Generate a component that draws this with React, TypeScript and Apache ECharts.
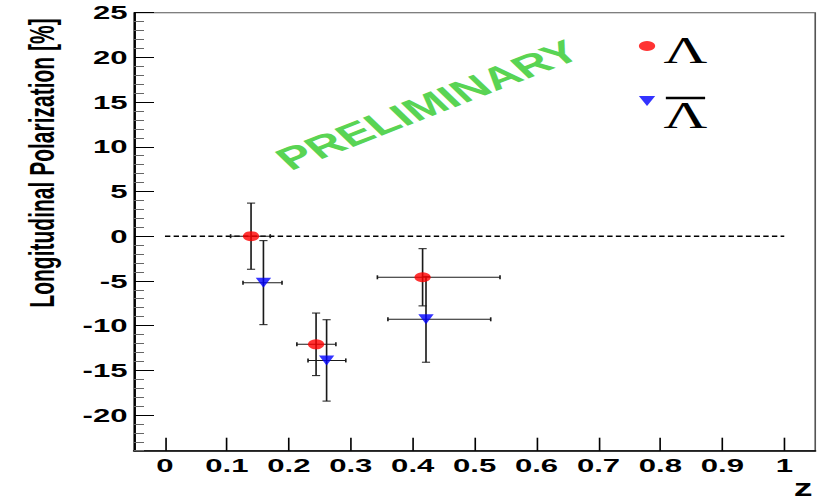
import React, { useEffect, useRef } from "react";
import * as echarts from "echarts";

// ---- data ----
const lambdaZ = [0.139, 0.244, 0.416];
const lambdaP = [0.0, -12.1, -4.6];
const lambdaZLow = [0.106, 0.213, 0.343];
const lambdaZHigh = [0.17, 0.276, 0.541];
const lambdaPErr = [3.7, 3.5, 3.2];

const antiZ = [0.159, 0.261, 0.4215];
const antiP = [-5.2, -13.9, -9.3];
const antiZLow = [0.126, 0.231, 0.36];
const antiZHigh = [0.189, 0.292, 0.526];
const antiPErr = [4.7, 4.55, 4.8];

const zeroLine = [
  [0, 0],
  [1, 0],
];

const xTicks = [0, 0.1, 0.2, 0.3, 0.4, 0.5, 0.6, 0.7, 0.8, 0.9, 1];
const xTickLabels = ["0", "0.1", "0.2", "0.3", "0.4", "0.5", "0.6", "0.7", "0.8", "0.9", "1"];
const yTicks = [-20, -15, -10, -5, 0, 5, 10, 15, 20, 25];

const seriesNames = ["Λ", "anti-Λ"];
const legendText = "Λ";
const yTitle = "Longitudinal Polarization [%]";
const xTitle = "z";
const watermark = "PRELIMINARY";

// the original canvas was stretched horizontally into 818 px
const STRETCH = 1.636;
const W = 818 / STRETCH;
const H = 501;

function rows(z: number[], p: number[], lo: number[], hi: number[], e: number[]) {
  return z.map((v, i) => [v, p[i], lo[i], hi[i], e[i]]);
}

function errorRender(params: any, api: any) {
  const z = api.value(0);
  const p = api.value(1);
  const lo = api.value(2);
  const hi = api.value(3);
  const e = api.value(4);
  const l = api.coord([lo, p]);
  const h = api.coord([hi, p]);
  const t = api.coord([z, p + e]);
  const b = api.coord([z, p - e]);
  const style = { stroke: "#1a1a1a", lineWidth: 1 };
  const cy = 2;
  const cx = 2.5;
  return {
    type: "group",
    children: [
      { type: "line", shape: { x1: l[0], y1: l[1], x2: h[0], y2: h[1] }, style },
      { type: "line", shape: { x1: l[0], y1: l[1] - cy, x2: l[0], y2: l[1] + cy }, style },
      { type: "line", shape: { x1: h[0], y1: h[1] - cy, x2: h[0], y2: h[1] + cy }, style },
      { type: "line", shape: { x1: t[0], y1: t[1], x2: b[0], y2: b[1] }, style },
      { type: "line", shape: { x1: t[0] - cx, y1: t[1], x2: t[0] + cx, y2: t[1] }, style },
      { type: "line", shape: { x1: b[0] - cx, y1: b[1], x2: b[0] + cx, y2: b[1] }, style },
    ],
  };
}

const TRI_DOWN = "path://M0,0L10,0L5,10Z";
const SERIF = "Liberation Serif, Times New Roman, serif";

function legendBox(name: string, icon: string, top: number, padTop: number) {
  return {
    orient: "vertical",
    left: 390.5,
    top,
    padding: 0,
    itemGap: 0,
    itemWidth: 10,
    itemHeight: 10,
    data: [{ name, icon }],
    formatter: () => `{t|${legendText}}`,
    textStyle: {
      color: "#000",
      fontFamily: SERIF,
      fontSize: 37,
      rich: {
        t: {
          fontFamily: SERIF,
          fontSize: 37,
          lineHeight: 37,
          color: "#000",
          padding: [padTop, 0, 0, 0],
        },
      },
    },
  };
}

export default function App() {
  const ref = useRef<HTMLDivElement>(null);
  useEffect(() => {
    if (!ref.current) return;
    const chart = echarts.init(ref.current, undefined, { renderer: "svg" });
    const font = "Liberation Sans, Arial, Helvetica, sans-serif";
    const labelStyle = {
      color: "#000",
      fontWeight: "bold" as const,
      fontSize: 19,
      fontFamily: font,
    };
    chart.setOption({
      animation: false,
      textStyle: { fontFamily: font },
      grid: {
        left: 134 / STRETCH,
        top: 12.7,
        width: (1.1 * 619.3) / STRETCH,
        bottom: 50.3,
        show: true,
        borderColor: "#555",
        borderWidth: 1,
        backgroundColor: "transparent",
      },
      legend: [
        legendBox(seriesNames[0], "circle", 23.5, 8),
        legendBox(seriesNames[1], TRI_DOWN, 68.5, 28),
      ],
      xAxis: {
        type: "value",
        min: -0.05,
        max: 1.05,
        axisLine: { show: true, onZero: false, lineStyle: { color: "#000", width: 1.5 } },
        axisTick: {
          show: true,
          inside: true,
          length: 13,
          customValues: xTicks,
          lineStyle: { color: "#000", width: 1 },
        },
        axisLabel: {
          show: true,
          margin: 5,
          customValues: xTicks,
          formatter: (v: number) => {
            const i = xTicks.findIndex((t) => Math.abs(t - v) < 1e-9);
            return i >= 0 ? xTickLabels[i] : "";
          },
          ...labelStyle,
        },
        splitLine: { show: false },
      },
      yAxis: [
        {
          type: "value",
          min: -24,
          max: 25,
          interval: 1,
          axisLine: { show: true, onZero: false, lineStyle: { color: "#000", width: 1.2 } },
          axisTick: {
            show: true,
            inside: true,
            length: 10 / STRETCH,
            lineStyle: { color: "#666", width: 1 },
          },
          axisLabel: { show: false },
          splitLine: { show: false },
        },
        {
          type: "value",
          min: -24,
          max: 25,
          position: "left",
          axisLine: { show: false, onZero: false },
          axisTick: {
            show: true,
            inside: true,
            length: 20 / STRETCH,
            customValues: yTicks,
            lineStyle: { color: "#000", width: 1 },
          },
          axisLabel: {
            show: true,
            margin: 4,
            customValues: yTicks,
            formatter: (v: number) => String(v),
            ...labelStyle,
          },
          splitLine: { show: false },
        },
      ],
      graphic: [
        {
          type: "text",
          x: 25.7,
          y: 163,
          rotation: Math.PI / 2,
          style: {
            text: yTitle,
            fontFamily: font,
            fontWeight: "bold",
            fontSize: 21,
            fill: "#000",
            align: "center",
            verticalAlign: "middle",
          },
        },
        {
          type: "text",
          x: 491,
          y: 488.5,
          style: {
            text: xTitle,
            fontFamily: font,
            fontWeight: "bold",
            fontSize: 23,
            fill: "#000",
            align: "center",
            verticalAlign: "middle",
          },
        },
        {
          type: "text",
          x: 261.5,
          y: 105,
          rotation: (32.5 * Math.PI) / 180,
          style: {
            text: watermark,
            fontFamily: font,
            fontWeight: "bold",
            fontSize: 31,
            fill: "#59d454",
            align: "center",
            verticalAlign: "middle",
          },
        },
        {
          type: "line",
          shape: { x1: 407, y1: 98, x2: 431, y2: 98 },
          style: { stroke: "#000", lineWidth: 2.5 },
        },
      ],
      series: [
        {
          type: "line",
          data: zeroLine,
          showSymbol: false,
          symbol: "none",
          silent: true,
          lineStyle: { color: "#000", width: 1.5, type: [3.3, 2] },
          z: 1,
        },
        {
          type: "custom",
          name: "errΛ",
          renderItem: errorRender,
          data: rows(lambdaZ, lambdaP, lambdaZLow, lambdaZHigh, lambdaPErr),
          encode: { x: [0, 2, 3], y: [1] },
          z: 2,
        },
        {
          type: "custom",
          name: "errAnti",
          renderItem: errorRender,
          data: rows(antiZ, antiP, antiZLow, antiZHigh, antiPErr),
          encode: { x: [0, 2, 3], y: [1] },
          z: 2,
        },
        {
          type: "scatter",
          name: seriesNames[0],
          data: lambdaZ.map((z, i) => [z, lambdaP[i]]),
          symbol: "circle",
          symbolSize: 10,
          itemStyle: { color: "#ff0000" },
          z: 3,
        },
        {
          type: "scatter",
          name: seriesNames[1],
          data: antiZ.map((z, i) => [z, antiP[i]]),
          symbol: TRI_DOWN,
          symbolSize: [9.4, 10],
          itemStyle: { color: "#0000ff" },
          z: 3,
        },
      ],
    });
    return () => chart.dispose();
  }, []);
  return (
    <div
      ref={ref}
      style={{
        position: "fixed",
        left: 0,
        top: 0,
        width: W,
        height: H,
        transform: `scaleX(${STRETCH})`,
        transformOrigin: "0 0",
        background: "#fff",
      }}
    />
  );
}
